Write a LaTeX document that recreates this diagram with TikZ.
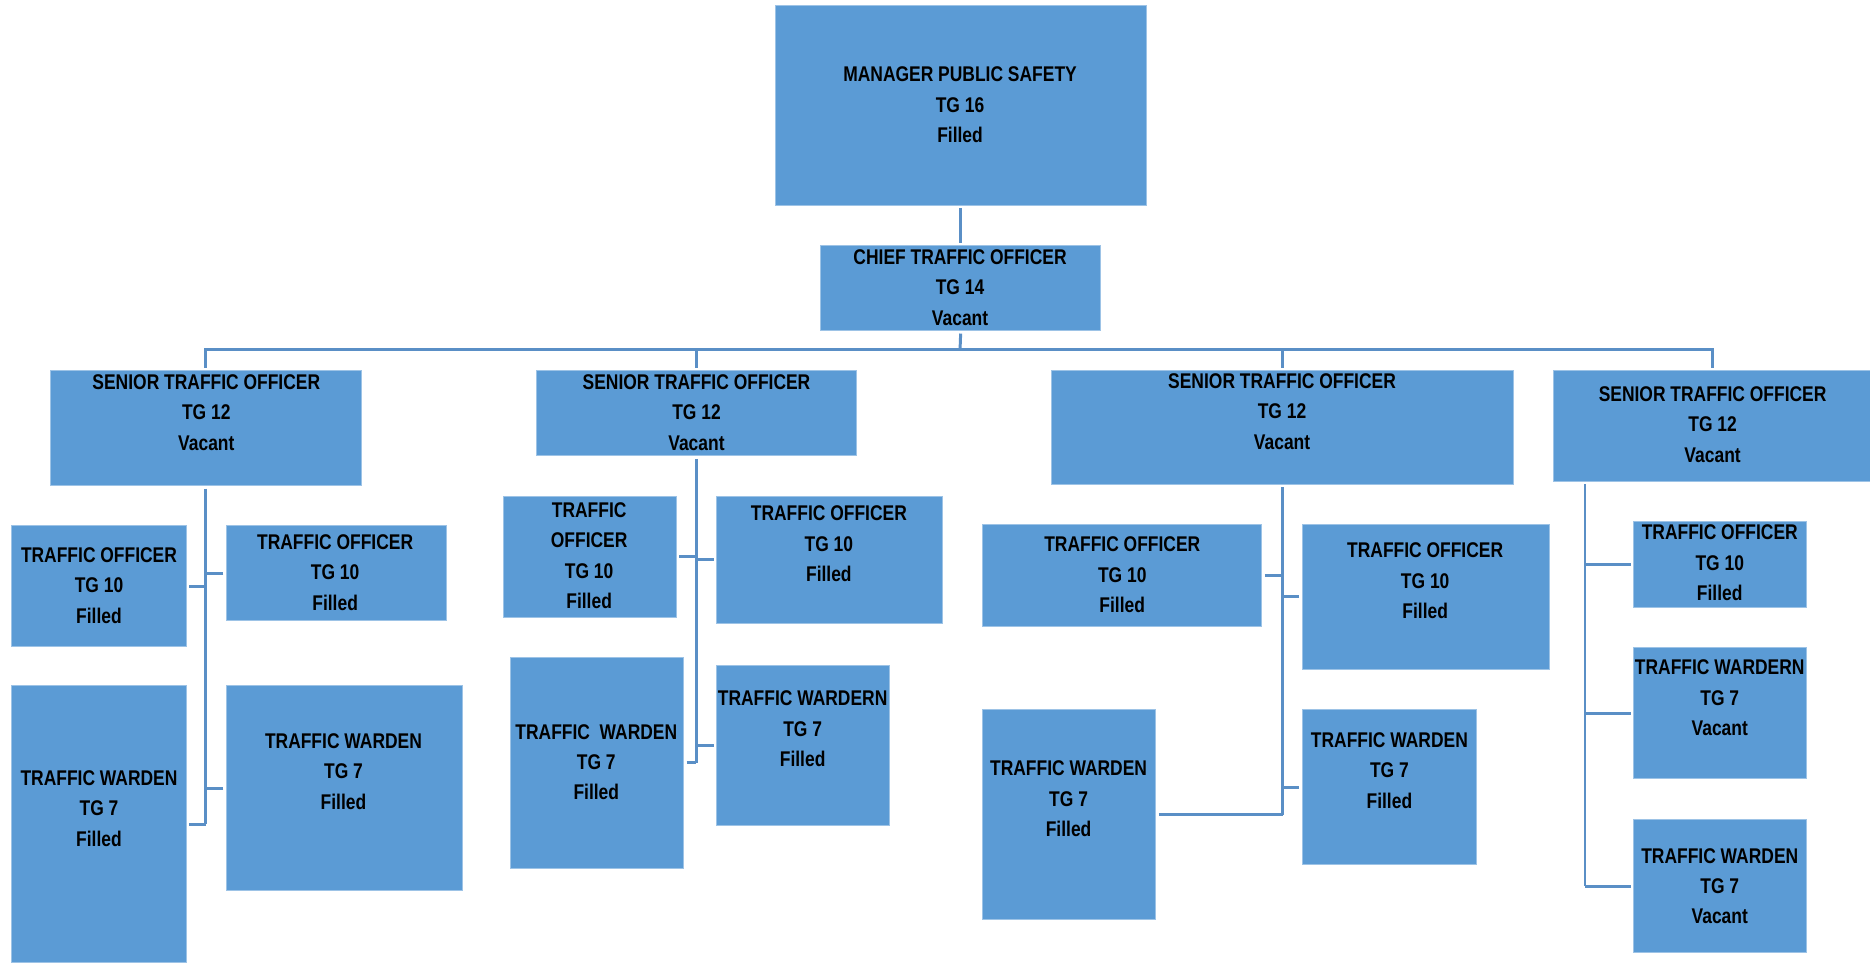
\documentclass[tikz,border=0pt]{standalone}
\usepackage{fontspec}
\newfontfamily\orgfont[FakeStretch=0.82]{Liberation Sans}
\usetikzlibrary{fit}
\definecolor{boxblue}{HTML}{5B9BD5}
\definecolor{edgeblue}{HTML}{9DC3E6}
\definecolor{linkblue}{HTML}{5A8FC6}
% box: name, x1, y1, x2, y2, text centre x, text centre y, text
\newcommand\orgbox[8]{%
  \coordinate (#1-a) at (#2,#3);
  \coordinate (#1-b) at (#4,#5);
  \node[post, fit=(#1-a)(#1-b)] (#1) {};
  \node[posttext] (#1-t) at (#6,#7) {#8};
}
\begin{document}
\begin{tikzpicture}[x=0.6pt, y=-0.6pt,
  post/.style={fill=boxblue, draw=edgeblue, line width=0.5pt, inner sep=0pt, outer sep=1.6pt},
  posttext/.style={align=center, inner sep=0pt, text=black,
    font=\orgfont\bfseries\fontsize{10.7}{15.3}\selectfont},
  conn/.style={draw=linkblue, line width=1.5pt}]
\useasboundingbox (0,0) rectangle (1568,807);

% top of the chart
\orgbox{mgr}{650}{5}{961}{172}{805}{88}{MANAGER PUBLIC SAFETY\\TG 16\\Filled}
\orgbox{chief}{688}{206}{923}{277}{805}{241}{CHIEF TRAFFIC OFFICER\\TG 14\\Vacant}

% senior traffic officers
\orgbox{s1}{42}{311}{303}{407}{173}{346}{SENIOR TRAFFIC OFFICER\\TG 12\\Vacant}
\orgbox{s2}{450}{311}{718}{382}{584}{346}{SENIOR TRAFFIC OFFICER\\TG 12\\Vacant}
\orgbox{s3}{882}{311}{1269}{406}{1075}{345}{SENIOR TRAFFIC OFFICER\\TG 12\\Vacant}
\orgbox{s4}{1303}{311}{1568}{404}{1436}{356}{SENIOR TRAFFIC OFFICER\\TG 12\\Vacant}

% first team
\orgbox{a1}{10}{441}{156}{542}{83}{491}{TRAFFIC OFFICER\\TG 10\\Filled}
\orgbox{a2}{190}{441}{374}{520}{281}{480}{TRAFFIC OFFICER\\TG 10\\Filled}
\orgbox{a3}{10}{575}{156}{807}{83}{678}{TRAFFIC WARDEN\\TG 7\\Filled}
\orgbox{a4}{190}{575}{388}{747}{288}{647}{TRAFFIC WARDEN\\TG 7\\Filled}

% second team
\orgbox{b1}{422}{416}{567}{518}{494}{466}{TRAFFIC\\OFFICER\\TG 10\\Filled}
\orgbox{b2}{601}{416}{790}{523}{695}{456}{TRAFFIC OFFICER\\TG 10\\Filled}
\orgbox{b3}{428}{551}{573}{728}{500}{639}{TRAFFIC\ \ WARDEN\\TG 7\\Filled}
\orgbox{b4}{601}{558}{746}{692}{673}{611}{TRAFFIC WARDERN\\TG 7\\Filled}

% third team
\orgbox{c1}{824}{440}{1058}{525}{941}{482}{TRAFFIC OFFICER\\TG 10\\Filled}
\orgbox{c2}{1092}{440}{1299}{561}{1195}{487}{TRAFFIC OFFICER\\TG 10\\Filled}
\orgbox{c3}{824}{595}{969}{771}{896}{670}{TRAFFIC WARDEN\\TG 7\\Filled}
\orgbox{c4}{1092}{595}{1238}{725}{1165}{646}{TRAFFIC WARDEN\\TG 7\\Filled}

% fourth team
\orgbox{d1}{1370}{437}{1515}{509}{1442}{472}{TRAFFIC OFFICER\\TG 10\\Filled}
\orgbox{d2}{1370}{543}{1515}{653}{1442}{585}{TRAFFIC WARDERN\\TG 7\\Vacant}
\orgbox{d3}{1370}{687}{1515}{799}{1442}{743}{TRAFFIC WARDEN\\TG 7\\Vacant}

% reporting lines
\coordinate (bus) at (805,293);
\draw[conn] (mgr.south) -- (chief.north);
\draw[conn] (chief.south) -- (bus);
\draw[conn] (s1.north) |- (bus);
\draw[conn] (s4.north) |- (bus);
\draw[conn] (s2.north) -- (s2.north |- bus);
\draw[conn] (s3.north) -- (s3.north |- bus);

% team spines and branches
\draw[conn] (s1.south) -- (s1.south |- a3.east);
\draw[conn] (a1.east) -- (a1.east -| s1.south);
\draw[conn] (a2.west) -- (a2.west -| s1.south);
\draw[conn] (a3.east) -- (a3.east -| s1.south);
\draw[conn] (a4.west) -- (a4.west -| s1.south);

\draw[conn] (s2.south) -- (s2.south |- b3.east);
\draw[conn] (b1.east) -- (b1.east -| s2.south);
\draw[conn] (b2.west) -- (b2.west -| s2.south);
\draw[conn] (b3.east) -- (b3.east -| s2.south);
\draw[conn] (b4.west) -- (b4.west -| s2.south);

\draw[conn] (s3.south) -- (s3.south |- c3.east);
\draw[conn] (c1.east) -- (c1.east -| s3.south);
\draw[conn] (c2.west) -- (c2.west -| s3.south);
\draw[conn] (c3.east) -- (c3.east -| s3.south);
\draw[conn] (c4.west) -- (c4.west -| s3.south);

\coordinate (d0) at (1329,406);
\draw[conn] (d0) -- (d0 |- d3.west);
\draw[conn] (d1.west) -- (d1.west -| d0);
\draw[conn] (d2.west) -- (d2.west -| d0);
\draw[conn] (d3.west) -- (d3.west -| d0);
\end{tikzpicture}
\end{document}
